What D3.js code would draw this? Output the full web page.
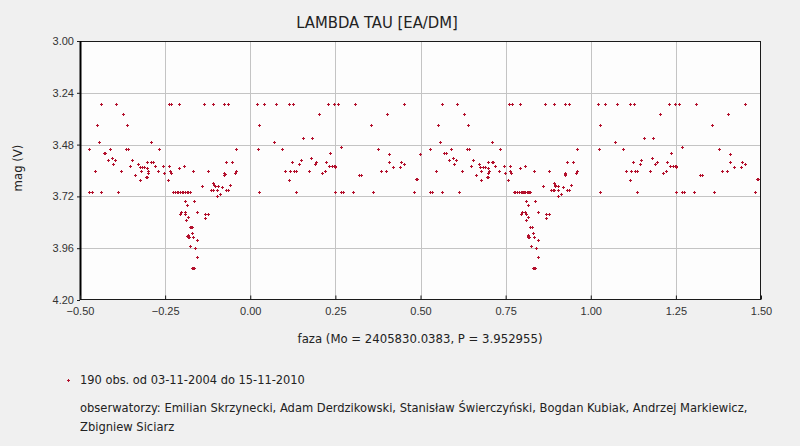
<!DOCTYPE html>
<html><head><meta charset="utf-8">
<script src="https://cdn.jsdelivr.net/npm/d3@7"></script>
<style>
html,body{margin:0;padding:0;background:#f0f0f0;}
svg{display:block;font-family:Tahoma,"DejaVu Sans Condensed","DejaVu Sans",sans-serif;}
</style></head><body>
<svg id="c" width="800" height="446"></svg>
<script>
// phase values (one cycle, plotted at phase and phase+1)
const phases = [-0.437,-0.393,-0.239,-0.232,-0.208,-0.373,-0.449,-0.361,-0.291,-0.473,
-0.443,-0.411,-0.364,-0.359,-0.267,-0.430,-0.426,-0.417,-0.396,-0.405,
-0.402,-0.329,-0.346,-0.302,-0.291,-0.287,-0.352,-0.281,-0.255,-0.238,
-0.208,-0.194,-0.325,-0.317,-0.311,-0.455,-0.379,-0.321,-0.302,-0.301,
-0.270,-0.252,-0.236,-0.233,-0.167,-0.338,-0.305,-0.302,-0.323,-0.242,
-0.473,-0.465,-0.437,-0.388,-0.226,-0.221,-0.216,-0.211,-0.206,-0.201,
-0.197,-0.192,-0.187,-0.182,-0.178,-0.191,-0.164,-0.185,-0.203,-0.193,
-0.156,-0.205,-0.191,-0.183,-0.190,-0.178,-0.173,-0.170,-0.183,-0.184,
-0.181,-0.167,-0.156,-0.176,-0.161,-0.156,-0.170,-0.167,-0.165,-0.141,
-0.108,-0.104,-0.095,-0.082,-0.059,-0.116,-0.109,-0.097,-0.071,-0.064,
-0.088,-0.097,0.027,0.135,0.115,-0.132,-0.123,-0.132,-0.135,-0.109,
-0.076,-0.064,0.021,0.041,0.077,0.115,0.126,0.027,0.156,-0.041,
0.024,0.071,0.094,-0.070,-0.053,0.124,0.144,0.149,-0.123,-0.076,
-0.076,-0.044,-0.041,0.103,0.118,0.129,0.135,0.173,0.229,0.247,
0.259,0.309,0.452,0.203,0.402,0.356,0.182,0.267,0.376,0.235,
0.408,-0.5015,0.179,0.194,0.223,0.408,0.444,0.452,0.190,0.232,
0.241,0.247,0.250,0.420,0.441,0.220,0.212,0.385,0.400,0.320,
0.326,0.488,0.491,0.250,0.267,0.273,0.303,0.361,0.482,-0.199,
-0.184,-0.300,0.249,-0.106,-0.110,-0.075,0.148,-0.172,-0.185,0.117];
// magnitudes (V)
const mags = [3.29,3.29,3.29,3.29,3.29,3.34,3.39,3.39,3.47,3.50,
3.47,3.50,3.50,3.50,3.50,3.52,3.52,3.55,3.55,3.54,
3.57,3.57,3.55,3.56,3.56,3.56,3.58,3.58,3.58,3.58,
3.59,3.58,3.585,3.585,3.585,3.60,3.60,3.60,3.59,3.61,
3.60,3.61,3.60,3.61,3.60,3.62,3.63,3.63,3.645,3.645,
3.70,3.70,3.70,3.70,3.70,3.70,3.70,3.70,3.70,3.70,
3.70,3.70,3.70,3.70,3.70,3.74,3.74,3.76,3.79,3.79,
3.79,3.80,3.80,3.815,3.83,3.86,3.86,3.89,3.90,3.91,
3.91,3.91,3.92,3.95,3.96,4.00,4.05,4.05,4.05,3.67,
3.66,3.67,3.67,3.675,3.665,3.69,3.69,3.69,3.69,3.69,
3.71,3.72,3.70,3.70,3.645,3.80,3.80,3.82,3.29,3.29,
3.29,3.29,3.29,3.29,3.29,3.29,3.29,3.39,3.45,3.50,
3.50,3.47,3.50,3.56,3.56,3.56,3.57,3.55,3.60,3.61,
3.62,3.61,3.60,3.60,3.60,3.60,3.60,3.60,3.29,3.29,
3.29,3.29,3.29,3.34,3.34,3.39,3.45,3.49,3.50,3.52,
3.525,3.525,3.54,3.56,3.56,3.56,3.56,3.57,3.57,3.58,
3.58,3.58,3.585,3.585,3.585,3.60,3.61,3.60,3.60,3.62,
3.62,3.64,3.64,3.70,3.70,3.70,3.70,3.70,3.70,3.70,
3.70,3.60,3.58,3.665,3.69,3.615,3.55,3.86,3.905,3.60];
const xTicks = [-0.50,-0.25,0.00,0.25,0.50,0.75,1.00,1.25,1.50];
const yTicks = [3.00,3.24,3.48,3.72,3.96,4.20];
const title = "LAMBDA TAU [EA/DM]";
const xTitle = "faza (Mo = 2405830.0383, P = 3.952955)";
const yTitle = "mag (V)";
const legendText = "190 obs. od 03-11-2004 do 15-11-2010";
const observers = ["obserwatorzy: Emilian Skrzynecki, Adam Derdzikowski, Stanisław Świerczyński, Bogdan Kubiak, Andrzej Markiewicz,","Zbigniew Siciarz"];

const svg = d3.select("#c");
const L=80, R=761, T=41, B=300;
const x = d3.scaleLinear().domain([-0.5,1.5]).range([L,R]);
const y = d3.scaleLinear().domain([3.0,4.2]).range([T,B]);
const col = "#b3102c";

svg.append("rect").attr("x",L).attr("y",T).attr("width",R-L).attr("height",B-T).attr("fill","#fdfdfd");
// grid
svg.append("g").selectAll("line").data(xTicks.slice(1,-1)).join("line")
  .attr("x1",d=>Math.round(x(d))+0.5).attr("x2",d=>Math.round(x(d))+0.5)
  .attr("y1",T).attr("y2",B).attr("stroke","#c4c4c4");
svg.append("g").selectAll("line").data(yTicks.slice(1,-1)).join("line")
  .attr("y1",d=>Math.round(y(d))+0.5).attr("y2",d=>Math.round(y(d))+0.5)
  .attr("x1",L).attr("x2",R).attr("stroke","#c4c4c4");

// points
const pts = [];
phases.forEach((p,i)=>{ pts.push([p,mags[i]]); pts.push([p+1,mags[i]]); });
const g = svg.append("g").attr("shape-rendering","crispEdges").attr("fill",col);
pts.filter(d=>d[0]>=-0.5&&d[0]<=1.5).forEach(d=>{
  const cx=Math.round(x(d[0])), cy=Math.round(y(d[1]));
  g.append("rect").attr("x",cx-1).attr("y",cy).attr("width",3).attr("height",1);
  g.append("rect").attr("x",cx).attr("y",cy-1).attr("width",1).attr("height",3);
});

// frame
svg.append("rect").attr("x",L+0.5).attr("y",T+0.5).attr("width",R-L-1).attr("height",B-T-1)
  .attr("fill","none").attr("stroke","#1a1a1a");
svg.append("line").attr("x1",L+0.5).attr("x2",L+0.5).attr("y1",T).attr("y2",B).attr("stroke","#000").attr("stroke-width",2);

// axes
const xa = d3.axisBottom(x).tickValues(xTicks).tickFormat(d3.format(".2f")).tickSizeInner(-4).tickSizeOuter(0).tickPadding(8);
const gx = svg.append("g").attr("transform",`translate(0,${B-0.5})`).call(xa);
gx.select(".domain").remove();
gx.selectAll("line").attr("stroke","#1a1a1a");
gx.selectAll("text").attr("fill","#333").attr("font-size",11);
const ya = d3.axisLeft(y).tickValues(yTicks).tickFormat(d3.format(".2f")).tickSizeInner(3).tickSizeOuter(0).tickPadding(3);
const gy = svg.append("g").attr("transform",`translate(${L},0)`).call(ya);
gy.select(".domain").remove();
gy.selectAll("line").attr("stroke","#1a1a1a");
gy.selectAll("text").attr("fill","#333").attr("font-size",11);

svg.append("text").attr("x",377).attr("y",28).attr("text-anchor","middle").attr("font-size",16.5).attr("fill","#222").text(title);
svg.append("text").attr("x",420).attr("y",343).attr("text-anchor","middle").attr("font-size",13).attr("fill","#222").text(xTitle);
svg.append("text").attr("transform","translate(22,168) rotate(-90)").attr("text-anchor","middle").attr("font-size",13).attr("fill","#222").text(yTitle);

// legend
const lx=68, ly=380;
svg.append("rect").attr("x",lx-1).attr("y",ly).attr("width",3).attr("height",1).attr("fill",col);
svg.append("rect").attr("x",lx).attr("y",ly-1).attr("width",1).attr("height",3).attr("fill",col);
svg.append("text").attr("x",80).attr("y",384).attr("font-size",12.7).attr("fill","#222").text(legendText);
observers.forEach((t,i)=>svg.append("text").attr("x",80).attr("y",412+i*19).attr("font-size",12.8).attr("fill","#222").text(t));
</script>
</body></html>
